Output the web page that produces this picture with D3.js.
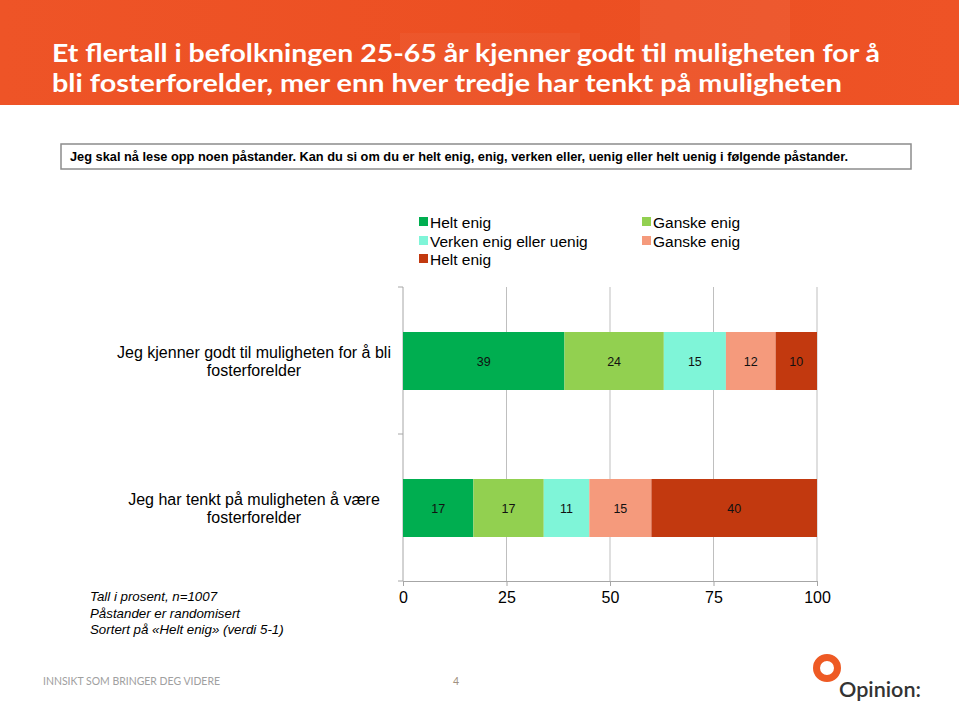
<!DOCTYPE html>
<html><head><meta charset="utf-8">
<script src="https://cdn.jsdelivr.net/npm/d3@7"></script>
<style>body{margin:0;background:#fff}svg{display:block}</style>
</head><body>
<script>
const categories = ["Jeg kjenner godt til muligheten for å bli fosterforelder", "Jeg har tenkt på muligheten å være fosterforelder"];
const categoryLines = [["Jeg kjenner godt til muligheten for å bli", "fosterforelder"], ["Jeg har tenkt på muligheten å være", "fosterforelder"]];
const seriesNames = ["Helt enig", "Ganske enig", "Verken enig eller uenig", "Ganske enig", "Helt enig"];
const seriesColors = ["#00ae50", "#92d050", "#7ff5d8", "#f59a7c", "#c2390f"];
const helt_enig = [39, 17];
const ganske_enig = [24, 17];
const verken = [15, 11];
const ganske_uenig = [12, 15];
const helt_uenig = [10, 40];
const seriesValues = [helt_enig, ganske_enig, verken, ganske_uenig, helt_uenig];
const xTicks = [0, 25, 50, 75, 100];
const titleLines = ["Et flertall i befolkningen 25-65 år kjenner godt til muligheten for å", "bli fosterforelder, mer enn hver tredje har tenkt på muligheten"];
const question = "Jeg skal nå lese opp noen påstander. Kan du si om du er helt enig, enig, verken eller, uenig eller helt uenig i følgende påstander.";
const notes = ["Tall i prosent, n=1007", "Påstander er randomisert", "Sortert på «Helt enig» (verdi 5-1)"];

const W = 959, H = 701;
const svg = d3.select("body").append("svg").attr("width", W).attr("height", H);

// header
const defs = svg.append("defs");
const g1 = defs.append("linearGradient").attr("id","hdr").attr("x1","0").attr("x2","1");
g1.append("stop").attr("offset","0").attr("stop-color","#ee5427");
g1.append("stop").attr("offset","0.6").attr("stop-color","#ec4f22");
g1.append("stop").attr("offset","1").attr("stop-color","#ee5326");
svg.append("rect").attr("x",0).attr("y",0).attr("width",W).attr("height",105).attr("fill","url(#hdr)");
svg.append("rect").attr("x",640).attr("y",0).attr("width",150).attr("height",105).attr("fill","#fff").attr("opacity",0.05);
svg.append("rect").attr("x",400).attr("y",33).attr("width",180).attr("height",72).attr("fill","#fff").attr("opacity",0.04);
const titleW = [828, 790];
titleLines.forEach((t,i)=>{
  svg.append("text").attr("x",52).attr("y",62+i*30).attr("fill","#fff")
    .attr("font-family","Lato, 'Open Sans', sans-serif").attr("font-weight","bold").attr("font-size",24)
    .attr("textLength",titleW[i]).attr("lengthAdjust","spacingAndGlyphs").text(t);
});

// question box
svg.append("rect").attr("x",61).attr("y",144).attr("width",850).attr("height",25)
  .attr("fill","#fff").attr("stroke","#8c8c8c").attr("stroke-width",1.5);
svg.append("text").attr("x",70).attr("y",161).attr("font-family","Liberation Sans, Arial, sans-serif")
  .attr("font-weight","bold").attr("font-size",12.5).attr("fill","#000")
  .attr("textLength",778).attr("lengthAdjust","spacingAndGlyphs").text(question);

// legend
const legendPos = [[419,222],[642,222],[419,241],[642,241],[419,259]];
seriesNames.forEach((n,i)=>{
  const [lx,ly] = legendPos[i];
  svg.append("rect").attr("x",lx).attr("y",ly-5).attr("width",9).attr("height",9).attr("fill",seriesColors[i]);
  svg.append("text").attr("x",lx+11).attr("y",ly+5.5).attr("font-family","Liberation Sans, Arial, sans-serif")
    .attr("font-size",15.5).attr("fill","#000").text(n);
});

// chart
const x = d3.scaleLinear().domain([0,100]).range([403,817]);
const bandFull = d3.scaleBand().domain(categories).range([287,581]);

// gridlines
svg.append("g").selectAll("line").data(xTicks.slice(1)).join("line")
  .attr("x1",d=>x(d)).attr("x2",d=>x(d)).attr("y1",287).attr("y2",581)
  .attr("stroke","#bfbfbf").attr("stroke-width",1);

// left axis line and ticks
svg.append("line").attr("x1",x(0)).attr("x2",x(0)).attr("y1",287).attr("y2",581).attr("stroke","#a6a6a6");
const catTicks = [287, bandFull(categories[1]), 581];
svg.append("g").selectAll("line").data(catTicks).join("line")
  .attr("x1",x(0)-5).attr("x2",x(0)).attr("y1",d=>d).attr("y2",d=>d).attr("stroke","#a6a6a6");

// bottom axis
const xAxis = d3.axisBottom(x).tickValues(xTicks).tickSize(5).tickPadding(6).tickFormat(d3.format("d"));
const ax = svg.append("g").attr("transform","translate(0,581)").call(xAxis);
ax.select(".domain").attr("stroke","#a6a6a6");
ax.selectAll(".tick line").attr("stroke","#a6a6a6");
ax.selectAll("text").attr("font-family","Liberation Sans, Arial, sans-serif").attr("font-size",16).attr("fill","#000");

// bars
const stacked = categories.map((c,ci)=>{
  let acc = 0;
  return seriesValues.map((vals,si)=>{ const s = acc; acc += vals[ci]; return {c, si, v: vals[ci], x0: s, x1: acc}; });
}).flat();
const bh = 58;
svg.append("g").selectAll("rect").data(stacked).join("rect")
  .attr("x",d=>x(d.x0)).attr("width",d=>x(d.x1)-x(d.x0))
  .attr("y",d=>bandFull(d.c)+bandFull.bandwidth()/2-bh/2+0.5).attr("height",bh)
  .attr("fill",d=>seriesColors[d.si]);
svg.append("g").selectAll("text").data(stacked).join("text")
  .attr("x",d=>x((d.x0+d.x1)/2)).attr("y",d=>bandFull(d.c)+bandFull.bandwidth()/2+5)
  .attr("text-anchor","middle").attr("font-family","Liberation Sans, Arial, sans-serif")
  .attr("font-size",12.5).attr("fill","#111").text(d=>d.v);

// category labels
categories.forEach((c,ci)=>{
  const cy = bandFull(c)+bandFull.bandwidth()/2;
  categoryLines[ci].forEach((ln,li)=>{
    svg.append("text").attr("x",254).attr("y",cy-3+li*18.5).attr("text-anchor","middle")
      .attr("font-family","Liberation Sans, Arial, sans-serif").attr("font-size",16).attr("fill","#000").text(ln);
  });
});

// notes
notes.forEach((n,i)=>{
  svg.append("text").attr("x",90).attr("y",601+i*16.5).attr("font-family","Liberation Sans, Arial, sans-serif")
    .attr("font-style","italic").attr("font-size",13.3).attr("fill","#000").text(n);
});

// footer
svg.append("text").attr("x",43).attr("y",685).attr("font-family","Lato, 'Open Sans', sans-serif")
  .attr("font-size",10.5).attr("fill","#a0a0a0").attr("textLength",177).attr("lengthAdjust","spacingAndGlyphs").text("INNSIKT SOM BRINGER DEG VIDERE");
svg.append("text").attr("x",453).attr("y",685).attr("font-family","Lato, sans-serif")
  .attr("font-size",10.5).attr("fill","#a09080").text("4");

// logo
svg.append("circle").attr("cx",827).attr("cy",668).attr("r",10.5).attr("fill","none").attr("stroke","#ee5a24").attr("stroke-width",7);
svg.append("text").attr("x",839).attr("y",697).attr("font-family","Lato, 'Open Sans', sans-serif")
  .attr("font-size",21).attr("font-weight","600").attr("fill","#333").attr("textLength",82).attr("lengthAdjust","spacingAndGlyphs").text("Opinion:");
</script>
</body></html>
